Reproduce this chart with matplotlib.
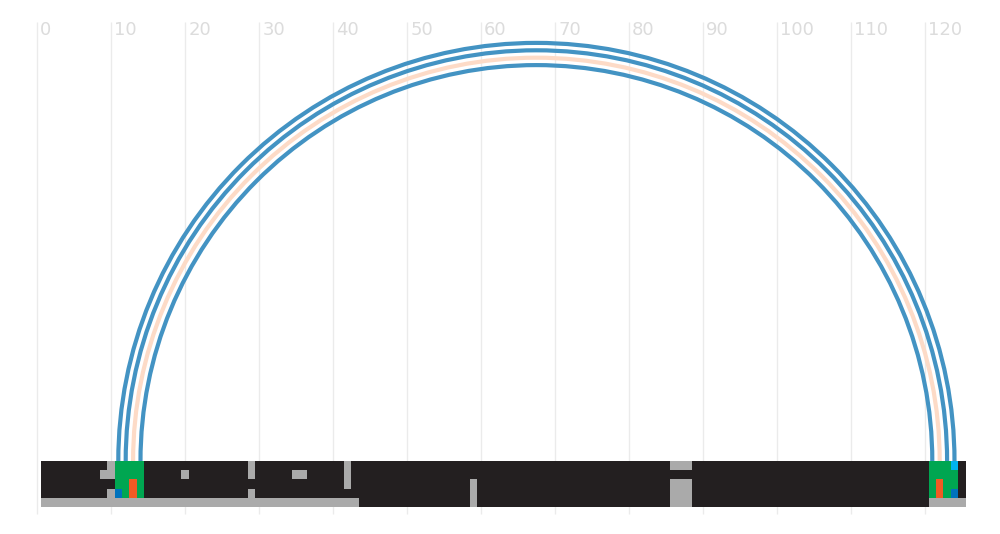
import matplotlib
matplotlib.use("Agg")
import matplotlib.pyplot as plt
from matplotlib.patches import Arc

# sequence positions shown in the track (one cell per position)
n_positions = 125
ticks = [0, 10, 20, 30, 40, 50, 60, 70, 80, 90, 100, 110, 120]

# base pairs drawn as arcs (outer to inner)
pair_left = [11, 12, 13, 14]
pair_right = [124, 123, 122, 121]
pair_kind = ["paired", "paired", "mismatch", "paired"]

# annotation track: per row, runs of (first, last, kind); everything else is "base"
row0 = [(10, 10, "gap"), (11, 14, "stem"), (29, 29, "gap"), (42, 42, "gap"),
        (86, 88, "gap"), (121, 123, "stem"), (124, 124, "cyan")]
row1 = [(9, 10, "gap"), (11, 14, "stem"), (20, 20, "gap"), (29, 29, "gap"),
        (35, 36, "gap"), (42, 42, "gap"), (121, 124, "stem")]
row2 = [(11, 12, "stem"), (13, 13, "orange"), (14, 14, "stem"), (42, 42, "gap"),
        (59, 59, "gap"), (86, 88, "gap"), (121, 121, "stem"), (122, 122, "orange"),
        (123, 124, "stem")]
row3 = [(10, 10, "gap"), (11, 11, "blue"), (12, 12, "stem"), (13, 13, "orange"),
        (14, 14, "stem"), (29, 29, "gap"), (59, 59, "gap"), (86, 88, "gap"),
        (121, 121, "stem"), (122, 122, "orange"), (123, 123, "stem"), (124, 124, "blue")]
row4 = [(1, 43, "gap"), (59, 59, "gap"), (86, 88, "gap"), (121, 125, "gap")]
track_rows = [row0, row1, row2, row3, row4]

colors = {
    "base": "#231f20",
    "gap": "#aaaaaa",
    "stem": "#00a651",
    "orange": "#f15a24",
    "blue": "#0072bc",
    "cyan": "#00b4f0",
    "paired": "#4393c3",
    "mismatch": "#fddbc7",
}

row_h = 1.25

fig = plt.figure(figsize=(10, 5.34), dpi=100)
ax = fig.add_axes([0, 0, 1, 1])
# equal scale on both axes (7.4 px per position) so the arcs stay round
ax.set_xlim(-4.986, 130.15)
ax.set_ylim(-9.865, 62.297)
ax.axis("off")

# light grid + labels along the top
ax.vlines(ticks, -7.16, 59.32, color="#ebebeb", lw=1, zorder=0)
for t in ticks:
    ax.text(t + 0.45, 58.3, str(t), ha="left", va="center",
            fontsize=13, color="#dcdcdc", zorder=1)

# arcs
for l, r, kind in zip(pair_left, pair_right, pair_kind):
    arc = Arc(((l + r) / 2, 0), r - l, r - l, theta1=0, theta2=180,
              color=colors[kind], lw=3, zorder=2)
    ax.add_patch(arc)

# track
for i, runs in enumerate(track_rows):
    bottom = -(i + 1) * row_h
    ax.bar([0.5], [row_h], width=n_positions, align="edge", bottom=bottom,
           color=colors["base"], lw=0, zorder=3)
    for first, last, kind in runs:
        ax.bar([first - 0.5], [row_h], width=last - first + 1, align="edge",
               bottom=bottom, color=colors[kind], lw=0, zorder=4)

fig.savefig("out.png", dpi=100)
